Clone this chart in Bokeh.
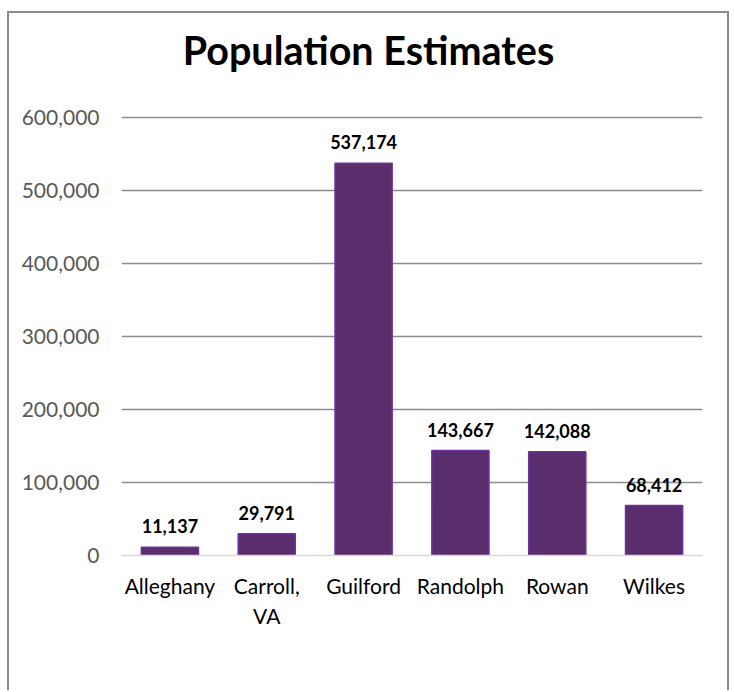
from bokeh.plotting import figure
from bokeh.models import ColumnDataSource, NumeralTickFormatter, FixedTicker, Label, Range1d
from bokeh.core.properties import value
from bokeh.embed import file_html
from bokeh.resources import INLINE

counties = ["Alleghany", "Carroll,\nVA", "Guilford", "Randolph", "Rowan", "Wilkes"]
population = [11137, 29791, 537174, 143667, 142088, 68412]
labels = ["11,137", "29,791", "537,174", "143,667", "142,088", "68,412"]
y_ticks = [0, 100000, 200000, 300000, 400000, 500000, 600000]
title_text = "Population Estimates"

FONT = "Lato"

src = ColumnDataSource(dict(x=counties, y=population, lab=labels))

W, H = 722, 679
TOP, BOTTOM = 7, 137            # px above / below the frame on the canvas
frame_h = H - TOP - BOTTOM       # frame reaches up to hold the title
px_axis = 438                    # pixels spanned by 0..600,000
y_end = y_ticks[-1] * frame_h / px_axis

p = figure(x_range=counties, y_range=Range1d(0, y_end), width=W, height=H,
           output_backend="svg", toolbar_location=None,
           min_border_left=112, min_border_right=29, min_border_top=TOP, min_border_bottom=BOTTOM)
p.styles = {"border-left": "2px solid #8a8a8a", "border-right": "2px solid #8a8a8a",
            "border-top": "2px solid #8a8a8a", "margin-top": "11px", "margin-left": "7px"}
p.outline_line_color = None
p.x_range.range_padding = 0

p.vbar(x="x", top="y", width=0.59, source=src, fill_color="#5a2d6c",
       line_color="#7030a0", line_width=1.5)
p.text(x="x", y="y", text="lab", source=src, text_align="center", text_baseline="middle",
       y_offset=-21, text_font=value(FONT), text_font_style="bold", text_font_size="18px",
       text_color="#000000")

p.add_layout(Label(x=247, y=506, x_units="screen", y_units="screen", text=title_text,
                   text_align="center", text_baseline="middle", text_font=FONT,
                   text_font_style="bold", text_font_size="39.5px", text_color="#000000"))

p.yaxis.ticker = FixedTicker(ticks=y_ticks)
p.yaxis.formatter = NumeralTickFormatter(format="0,0")
p.yaxis.axis_line_color = None
p.yaxis.major_tick_line_color = None
p.yaxis.minor_tick_line_color = None
p.yaxis.major_label_standoff = 16
p.yaxis.major_label_text_font = FONT
p.yaxis.major_label_text_font_size = "21px"
p.yaxis.major_label_text_color = "#595959"

p.xaxis.axis_line_color = "#d9d9d9"
p.xaxis.axis_line_width = 1.5
p.xaxis.major_tick_line_color = None
p.xaxis.minor_tick_line_color = None
p.xaxis.major_label_standoff = 11
p.xaxis.major_label_text_font = FONT
p.xaxis.major_label_text_font_size = "21px"
p.xaxis.major_label_text_color = "#000000"

p.xgrid.grid_line_color = None
p.ygrid.ticker = FixedTicker(ticks=y_ticks[1:])
p.ygrid.grid_line_color = "#8c8c8c"
p.ygrid.grid_line_width = 1.5

open("out.html", "w").write(file_html(p, INLINE))
